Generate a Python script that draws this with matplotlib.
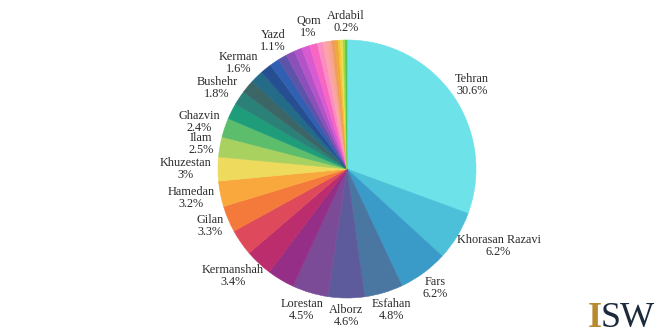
import matplotlib
matplotlib.use("Agg")
import matplotlib.pyplot as plt
import numpy as np

# slices in clockwise order from 12 o'clock; "" = slice drawn without a label
labels = ["Tehran", "Khorasan Razavi", "Fars", "Esfahan", "Alborz", "Lorestan",
          "", "Kermanshah", "", "Gilan", "Hamedan", "Khuzestan", "Ilam", "Ghazvin",
          "", "Bushehr", "", "Kerman", "", "", "Yazd", "", "", "", "Qom",
          "", "", "", "", "", "", "", "", "Ardabil"]
values = [30.6, 6.2, 6.2, 4.8, 4.6, 4.5,
          3.4, 3.4, 3.3, 3.3, 3.2, 3.0, 2.5, 2.4,
          2.0, 1.8, 1.7, 1.6, 1.4, 1.2, 1.1, 1.1, 1.0, 1.0, 1.0,
          0.7, 0.6, 0.5, 0.4, 0.4, 0.3, 0.3, 0.3, 0.2]
colors = ["#6de2e9", "#4cc0d9", "#3a9ac8", "#4a76a2", "#5e5b9c", "#7b4b97",
          "#952e86", "#bb2d6c", "#de4a5b", "#f47a3c", "#f9a83e", "#eeda5c",
          "#a9d15f", "#5cbd6c", "#1f9d7b", "#2b8078", "#3c6566", "#236b87",
          "#264f92", "#3060b2", "#5d53a9", "#8b50b9", "#b254c7", "#d95bd2",
          "#f866c3", "#fb8ec0", "#fba2ab", "#f7a68e", "#f09c5c", "#f0a838",
          "#f2c43c", "#e8e04c", "#a0d84c", "#50c65c"]

W, H = 660, 330
cx, cy, r = 347, 169, 129

fig = plt.figure(figsize=(W / 100, H / 100), dpi=100)
ax = fig.add_axes([(cx - r) / W, (H - cy - r) / H, 2 * r / W, 2 * r / H])

wedges, _ = ax.pie(values, colors=colors, startangle=90, counterclock=False,
                   radius=1, wedgeprops=dict(linewidth=0.4))
for w in wedges:
    w.set_edgecolor(w.get_facecolor())
ax.set_xlim(-1, 1)
ax.set_ylim(-1, 1)
ax.set_aspect("equal")
ax.axis("off")

font = "Liberation Serif"
renderer = fig.canvas.get_renderer()
for w, name, v in zip(wedges, labels, values):
    if not name:
        continue
    mid = np.deg2rad((w.theta1 + w.theta2) / 2)
    x, y = np.cos(mid), np.sin(mid)
    t = ax.text(0, 0, f"{name}\n{v:g}%", ha="center", va="center",
                multialignment="center", fontsize=8.8, family=font,
                color="#2a2a2a", linespacing=1.0, clip_on=False)
    bb = t.get_window_extent(renderer)
    tw, th = bb.width / r, bb.height / r
    # keep the near edge of the label just outside the rim
    d = 1.05
    t.set_position((d * x + tw / 2 * x, d * y + th / 2 * y))

# ISW logo, cut off at the bottom edge
fig.text(588 / W, 1 - 302 / H, "I", fontsize=26, family=font,
         color="#b8892e", va="top", ha="left", fontweight="bold")
fig.text(601 / W, 1 - 302 / H, "SW", fontsize=26, family=font,
         color="#1c2a3d", va="top", ha="left")

fig.savefig("out.png", dpi=100)
